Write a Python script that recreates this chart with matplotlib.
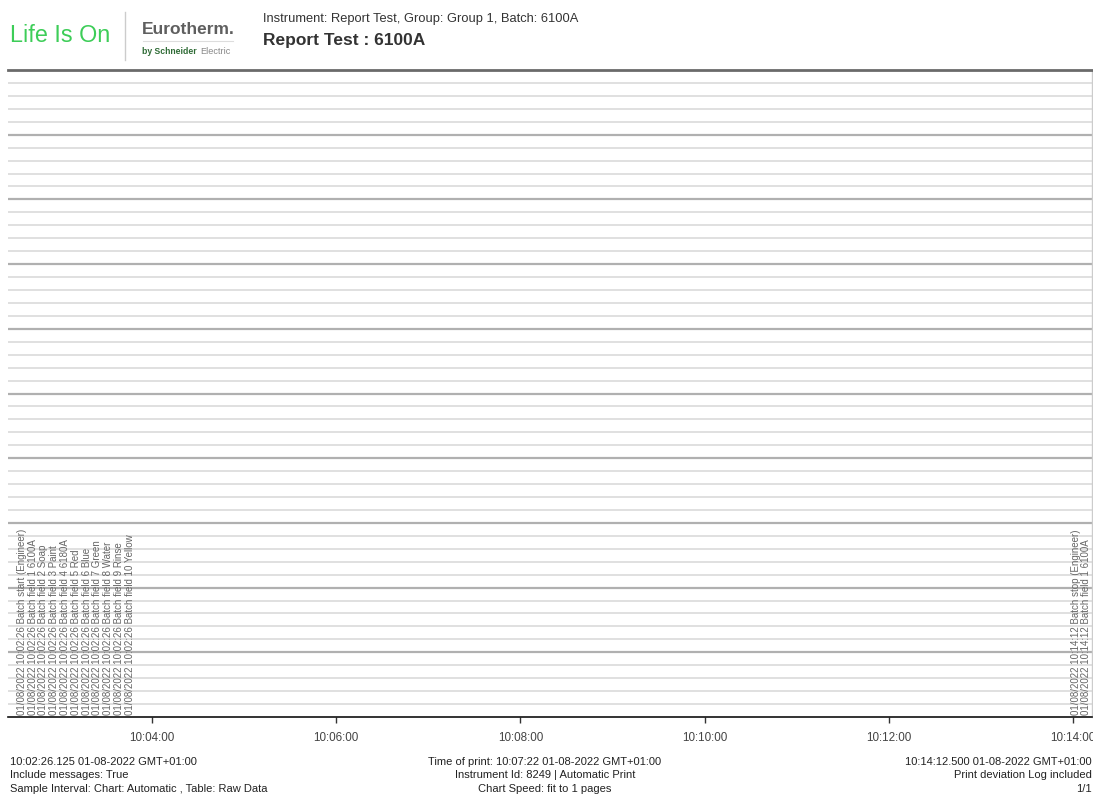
import matplotlib
matplotlib.use("Agg")
import matplotlib.pyplot as plt

plt.rcParams.update({
    "font.family": ["Liberation Sans", "DejaVu Sans"],
    "font.size": 8,
})

# ---------------------------------------------------------------
# data
# ---------------------------------------------------------------
START_TIME = "10:02:26.125"
STOP_TIME = "10:14:12.500"

TICK_TIMES = ["10:04:00", "10:06:00", "10:08:00", "10:10:00", "10:12:00", "10:14:00"]
TICK_LABELS = ["10:04:00", "10:06:00", "10:08:00", "10:10:00", "10:12:00", "10:14:00"]

START_MSG_TIME = "10:02:26"
START_MESSAGES = [
    "01/08/2022 10:02:26 Batch start (Engineer)",
    "01/08/2022 10:02:26 Batch field 1 6100A",
    "01/08/2022 10:02:26 Batch field 2 Soap",
    "01/08/2022 10:02:26 Batch field 3 Paint",
    "01/08/2022 10:02:26 Batch field 4 6180A",
    "01/08/2022 10:02:26 Batch field 5 Red",
    "01/08/2022 10:02:26 Batch field 6 Blue",
    "01/08/2022 10:02:26 Batch field 7 Green",
    "01/08/2022 10:02:26 Batch field 8 Water",
    "01/08/2022 10:02:26 Batch field 9 Rinse",
    "01/08/2022 10:02:26 Batch field 10 Yellow",
]

STOP_MSG_TIME = "10:14:12"
STOP_MESSAGES = [
    "01/08/2022 10:14:12 Batch stop (Engineer)",
    "01/08/2022 10:14:12 Batch field 1 6100A",
]

N_GRID = 50          # chart divisions (minor lines)
MAJOR_EVERY = 5

FOOT_LEFT = [
    "10:02:26.125 01-08-2022 GMT+01:00",
    "Include messages: True",
    "Sample Interval: Chart: Automatic , Table: Raw Data",
]
FOOT_CENTER = [
    "Time of print: 10:07:22 01-08-2022 GMT+01:00",
    "Instrument Id: 8249 | Automatic Print",
    "Chart Speed: fit to 1 pages",
]
FOOT_RIGHT = [
    "10:14:12.500 01-08-2022 GMT+01:00",
    "Print deviation Log included",
    "1/1",
]


def secs(t):
    h, m, s = t.split(":")
    return int(h) * 3600 + int(m) * 60 + float(s)


# ---------------------------------------------------------------
# figure
# ---------------------------------------------------------------
W, H = 1093, 798
fig = plt.figure(figsize=(W / 100, H / 100), dpi=100)
fig.patch.set_facecolor("white")

ax = fig.add_axes([8 / W, (H - 717) / H, (1092 - 8) / W, (717 - 70) / H])
ax.set_xlim(secs(START_TIME), secs(STOP_TIME))
ax.set_ylim(0, N_GRID)

# grid lines
for i in range(1, N_GRID):
    major = i % MAJOR_EVERY == 0
    ax.axhline(i, color="#b0b0b0" if major else "#e0e0e0",
               lw=1.6 if major else 1.4, zorder=1)

ax.set_yticks([])
ax.set_xticks([secs(t) for t in TICK_TIMES])
ax.set_xticklabels(TICK_LABELS, color="#444444", fontsize=8.4)
ax.tick_params(axis="x", direction="out", length=4, width=1, color="#333333", pad=7)

ax.spines["left"].set_visible(False)
ax.spines["top"].set_color("#6a6a6a")
ax.spines["top"].set_linewidth(2)
ax.spines["right"].set_color("#cccccc")
ax.spines["right"].set_linewidth(1)
ax.spines["bottom"].set_color("#111111")
ax.spines["bottom"].set_linewidth(1.2)

# messages
for i, msg in enumerate(START_MESSAGES):
    ax.annotate(msg, xy=(secs(START_MSG_TIME), 0), xycoords=("data", "axes fraction"),
                xytext=(14 + 10.8 * i, 2), textcoords="offset pixels",
                rotation=90, ha="center", va="bottom", fontsize=7,
                color="#666666", zorder=5)

for i, msg in enumerate(STOP_MESSAGES):
    ax.annotate(msg, xy=(secs(STOP_MSG_TIME), 0), xycoords=("data", "axes fraction"),
                xytext=(-15 + 10 * i, 2), textcoords="offset pixels",
                rotation=90, ha="center", va="bottom", fontsize=7,
                color="#666666", zorder=5)

# ---------------------------------------------------------------
# header
# ---------------------------------------------------------------
def px(x, y):
    return x / W, 1 - y / H


fig.text(*px(10, 35), "Life Is On", fontsize=16.8, color="#3dcd58",
         ha="left", va="center")
fig.add_artist(plt.Line2D([125 / W, 125 / W], [1 - 12 / H, 1 - 60 / H],
                          color="#cccccc", lw=1))
fig.text(*px(142, 29), "Eurotherm.", fontsize=12.5, fontweight="bold",
         color="#5f5f5f", ha="left", va="center")
fig.add_artist(plt.Line2D([143 / W, 233 / W], [1 - 41 / H, 1 - 41 / H],
                          color="#dddddd", lw=0.8))
fig.text(*px(142, 51), "by Schneider", fontsize=6.2, fontweight="bold",
         color="#2e6b35", ha="left", va="center")
fig.text(*px(200, 51.5), "Electric", fontsize=6.6, color="#888888",
         ha="left", va="center")

fig.text(*px(263, 19), "Instrument: Report Test, Group: Group 1, Batch: 6100A",
         fontsize=9.3, color="#333333", ha="left", va="center")
fig.text(*px(263, 40), "Report Test : 6100A", fontsize=12.5, fontweight="bold",
         color="#333333", ha="left", va="center")

# ---------------------------------------------------------------
# footer
# ---------------------------------------------------------------
for j, (l, c, r) in enumerate(zip(FOOT_LEFT, FOOT_CENTER, FOOT_RIGHT)):
    y = 762 + 13.5 * j
    fig.text(*px(10, y), l, color="#222222", ha="left", va="center")
    fig.text(*px(545, y), c, color="#222222", ha="center", va="center")
    fig.text(*px(1092, y), r, color="#222222", ha="right", va="center")

fig.savefig("out.png", dpi=100, facecolor="white")
